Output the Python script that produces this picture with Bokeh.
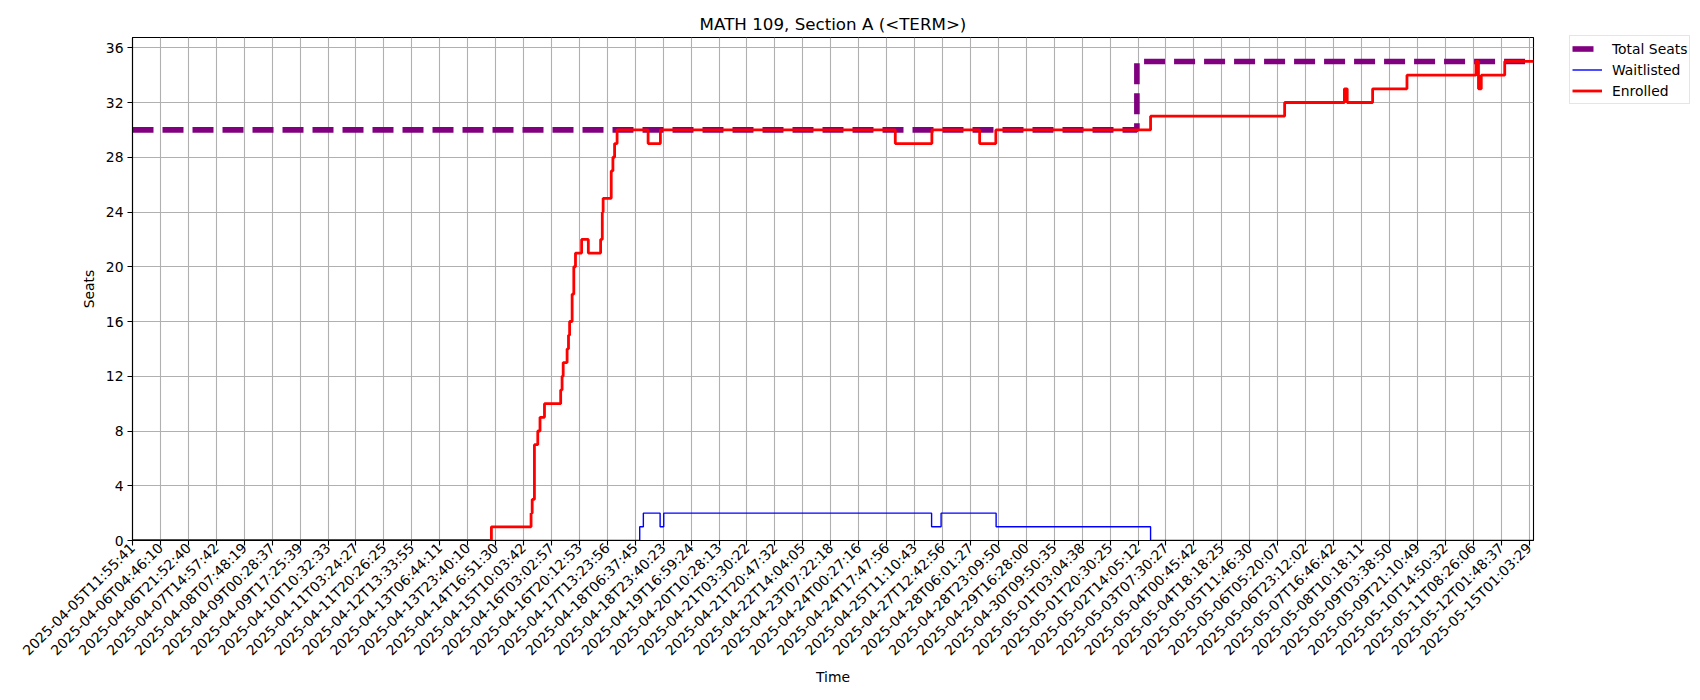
import math

from bokeh.embed import file_html
from bokeh.models import FixedTicker, Legend, LegendItem
from bokeh.plotting import figure
from bokeh.resources import INLINE

# x is the sample index (10 samples between two tick labels)
tick_pos = list(range(0, 510, 10))
tick_labels = [
    "2025-04-05T11:55:41", "2025-04-06T04:46:10", "2025-04-06T21:52:40",
    "2025-04-07T14:57:42", "2025-04-08T07:48:19", "2025-04-09T00:28:37",
    "2025-04-09T17:25:39", "2025-04-10T10:32:33", "2025-04-11T03:24:27",
    "2025-04-11T20:26:25", "2025-04-12T13:33:55", "2025-04-13T06:44:11",
    "2025-04-13T23:40:10", "2025-04-14T16:51:30", "2025-04-15T10:03:42",
    "2025-04-16T03:02:57", "2025-04-16T20:12:53", "2025-04-17T13:23:56",
    "2025-04-18T06:37:45", "2025-04-18T23:40:23", "2025-04-19T16:59:24",
    "2025-04-20T10:28:13", "2025-04-21T03:30:22", "2025-04-21T20:47:32",
    "2025-04-22T14:04:05", "2025-04-23T07:22:18", "2025-04-24T00:27:16",
    "2025-04-24T17:47:56", "2025-04-25T11:10:43", "2025-04-27T12:42:56",
    "2025-04-28T06:01:27", "2025-04-28T23:09:50", "2025-04-29T16:28:00",
    "2025-04-30T09:50:35", "2025-05-01T03:04:38", "2025-05-01T20:30:25",
    "2025-05-02T14:05:12", "2025-05-03T07:30:27", "2025-05-04T00:45:42",
    "2025-05-04T18:18:25", "2025-05-05T11:46:30", "2025-05-06T05:20:07",
    "2025-05-06T23:12:02", "2025-05-07T16:46:42", "2025-05-08T10:18:11",
    "2025-05-09T03:38:50", "2025-05-09T21:10:49", "2025-05-10T14:50:32",
    "2025-05-11T08:26:06", "2025-05-12T01:48:37", "2025-05-15T01:03:29",
]
x_end = 501.6

# series as change points (step "after")
total_x = [0, 359.6, x_end]
total_y = [30, 35, 35]

wait_x = [0, 181.6, 182.9, 188.9, 190.2, 286.1, 289.5, 309.2, 364.5, x_end]
wait_y = [0, 1, 2, 1, 2, 1, 2, 1, 0, 0]

enr_x = [0, 128.5, 142.7, 143.1, 143.9, 145.1, 145.9, 147.5, 153.3, 153.8,
         154.2, 155.6, 156.1, 156.5, 157.4, 158.0, 158.6, 160.8, 163.2, 167.6,
         168.2, 168.5, 171.4, 172.0, 172.6, 173.5, 184.6, 189.0, 273.1, 286.2,
         303.3, 309.1, 364.5, 412.5, 433.9, 434.9, 444.0, 456.3, 481.0, 481.9,
         482.9, 491.3, x_end]
enr_y = [0, 1, 2, 3, 7, 8, 9, 10, 11, 12,
         13, 14, 15, 16, 18, 20, 21, 22, 21, 22,
         24, 25, 27, 28, 29, 30, 29, 30, 29, 30,
         29, 30, 31, 32, 33, 32, 33, 34, 35, 33,
         34, 35, 35]

y_ticks = list(range(0, 40, 4))

FONT = "DejaVu Sans"

p = figure(width=1684, height=684, frame_width=1401, frame_height=503,
           x_range=(0, x_end), y_range=(0, 36.75),
           title="MATH 109, Section A (<TERM>)",
           output_backend="svg", toolbar_location=None,
           min_border_left=132, min_border_right=151,
           min_border_top=37, min_border_bottom=144)
p.background_fill_color = "white"
p.border_fill_color = "white"
p.outline_line_color = "black"
p.outline_line_width = 1.1

p.title.align = "center"
p.title.text_font = FONT
p.title.text_font_size = "16.7px"
p.title.text_font_style = "normal"
p.title.text_color = "black"
p.title.standoff = 8

r_total = p.step(total_x, total_y, mode="after", line_color="purple",
                 line_width=5.6, line_dash="21 9")
r_wait = p.step(wait_x, wait_y, mode="after", line_color="blue", line_width=1.4)
r_enr = p.step(enr_x, enr_y, mode="after", line_color="red", line_width=2.8)

p.xaxis.ticker = FixedTicker(ticks=tick_pos)
p.xaxis.major_label_overrides = {t: lab for t, lab in zip(tick_pos, tick_labels)}
p.xaxis.major_label_orientation = math.pi / 4
p.yaxis.ticker = FixedTicker(ticks=y_ticks)
p.xaxis.axis_label = "Time"
p.yaxis.axis_label = "Seats"

for ax in p.axis:
    ax.minor_tick_line_color = None
    ax.major_tick_in = 0
    ax.major_tick_out = 5
    ax.major_tick_line_color = "black"
    ax.major_tick_line_width = 1.1
    ax.axis_line_color = "black"
    ax.axis_line_width = 1.1
    ax.major_label_text_font = FONT
    ax.major_label_text_font_size = "13.9px"
    ax.major_label_text_color = "black"
    ax.major_label_standoff = 4
    ax.axis_label_text_font = FONT
    ax.axis_label_text_font_size = "13.9px"
    ax.axis_label_text_font_style = "normal"
    ax.axis_label_text_color = "black"
    ax.axis_label_standoff = 6

p.xaxis.major_label_standoff = 0
p.xaxis.axis_label_standoff = 2

for g in p.grid:
    g.grid_line_color = "#b0b0b0"
    g.grid_line_width = 1.1

legend = Legend(items=[
    LegendItem(label="Total Seats", renderers=[r_total]),
    LegendItem(label="Waitlisted", renderers=[r_wait]),
    LegendItem(label="Enrolled", renderers=[r_enr]),
], location=(36, 436))
legend.margin = 0
legend.padding = 2
legend.spacing = 0
legend.label_height = 21
legend.glyph_height = 21
legend.glyph_width = 30
legend.label_standoff = 10
legend.label_text_font = FONT
legend.label_text_font_size = "13.9px"
legend.label_text_color = "black"
legend.border_line_color = "#cccccc"
legend.border_line_width = 1.1
legend.background_fill_alpha = 0.8
p.add_layout(legend, "right")

open("out.html", "w").write(file_html(p, INLINE))
